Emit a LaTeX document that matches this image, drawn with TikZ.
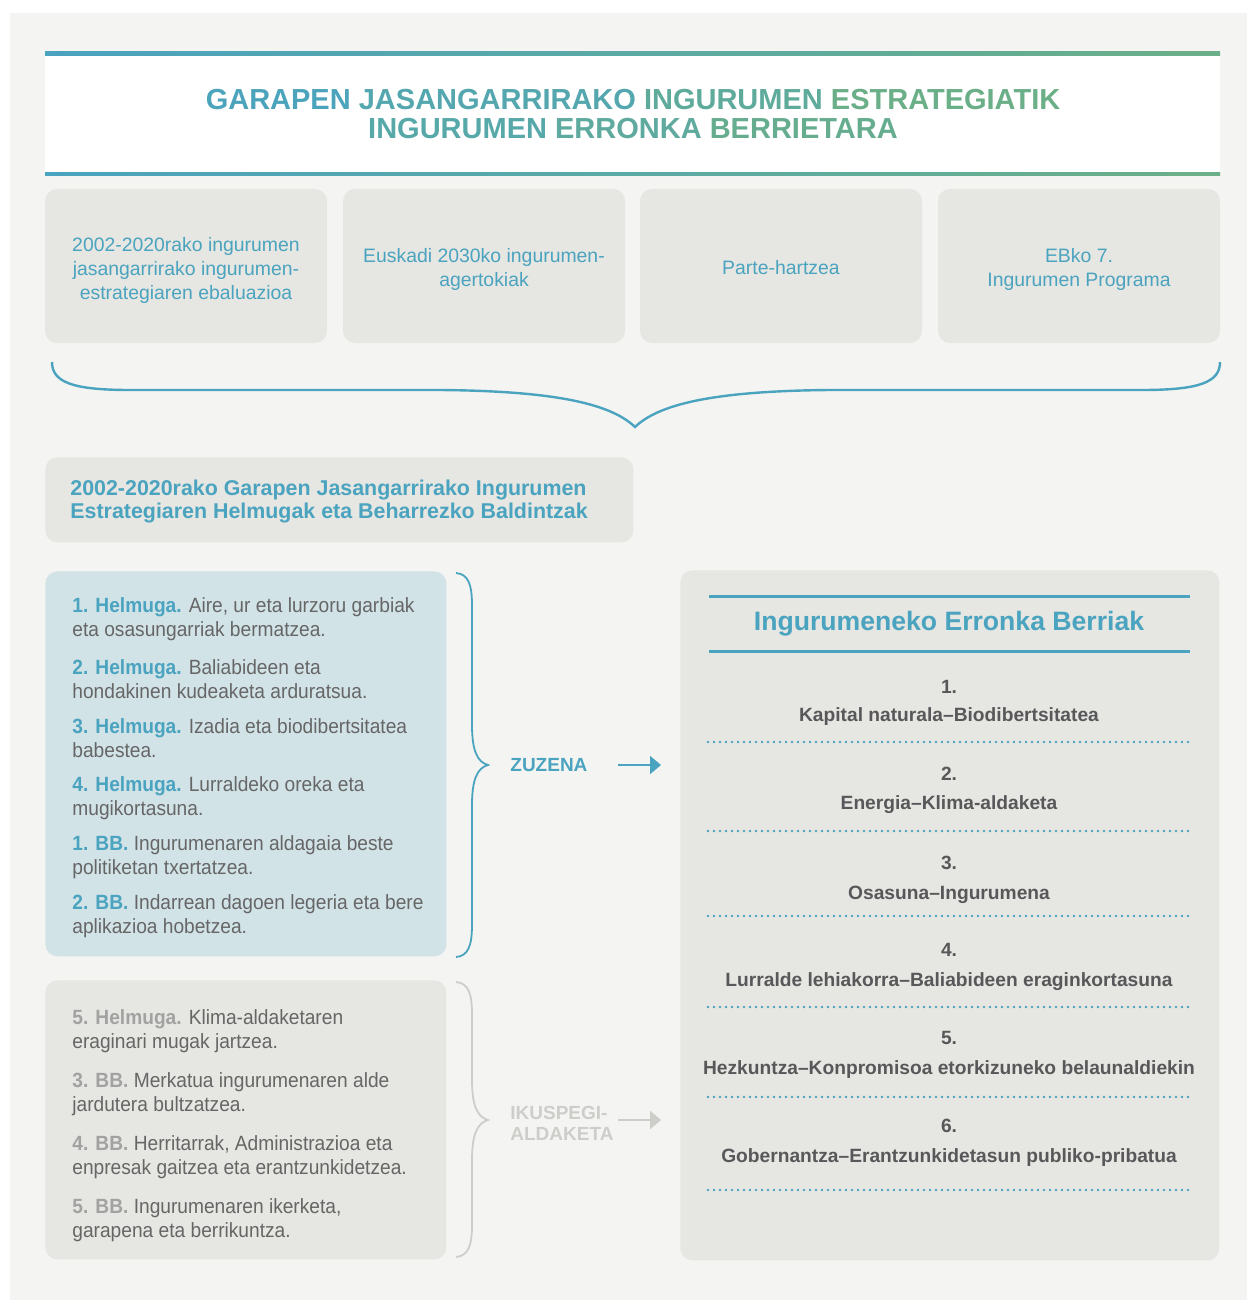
\documentclass[tikz,border=0pt]{standalone}
\usepackage{fontspec}
\setmainfont{Liberation Sans}
\newfontfamily\narrowfont[FakeStretch=0.93]{Liberation Sans}
\usetikzlibrary{arrows.meta}

\definecolor{LineBlue}{HTML}{4AA3BF}
\definecolor{LineGreen}{HTML}{6BAF88}
\definecolor{PageGray}{HTML}{F4F4F2}
\definecolor{PanelGray}{HTML}{E6E6E2}
\definecolor{PaleBlue}{HTML}{D2E3E8}
\definecolor{DarkText}{HTML}{58585A}
\definecolor{MidText}{HTML}{666666}
\definecolor{FadeGray}{HTML}{A2A2A2}
\definecolor{PaleGray}{HTML}{CDCDCA}

\begin{document}
\begin{tikzpicture}[x=0.5pt,y=-0.5pt,
  panel/.style={fill=PanelGray,rounded corners=6pt,inner sep=0pt},
  source/.style={panel,minimum width=141pt,minimum height=77pt},
  sourcetext/.style={align=center,inner sep=0pt,text=LineBlue,font=\fontsize{9.7}{12}\selectfont},
  goal/.style={anchor=west,align=left,inner sep=0pt,
    font=\narrowfont\fontsize{10.3}{12.3}\selectfont},
  challenge/.style={anchor=base,text=DarkText,font=\bfseries\fontsize{9.6}{11}\selectfont,inner sep=0pt},
  dotline/.style={LineBlue,line width=1.4pt,line cap=round,dash pattern=on 0pt off 3pt},
  brace/.style={line width=0.9pt},
  arr/.style={line width=1pt,-{Triangle[length=5.5pt,width=9pt]}}]
\def\hlabel#1{{\bfseries\color{LineBlue}#1}}
\def\glabel#1{{\bfseries\color{FadeGray}#1}}

\useasboundingbox (0,0) rectangle (1247,1300);
\fill[white] (0,0) rectangle (1247,1300);
\fill[PageGray] (10,13) rectangle (1247,1300);

\fill[white] (45,53) rectangle (1220,175);
\shade[left color=LineBlue,right color=LineGreen] (45,52) rectangle (1220,55.5);
\shade[left color=LineBlue,right color=LineGreen] (45,172.5) rectangle (1220,176);
\node[align=center,font=\bfseries\fontsize{14.5}{14.5}\selectfont] (title) at (633,114)
  {\textcolor{LineBlue!95!LineGreen}{GARAPEN} \textcolor{LineBlue!70!LineGreen}{JASANGARRIRAKO}
   \textcolor{LineBlue!35!LineGreen}{INGURUMEN} \textcolor{LineGreen}{ESTRATEGIATIK}\\
   \textcolor{LineBlue!60!LineGreen}{INGURUMEN} \textcolor{LineBlue!40!LineGreen}{ERRONKA}
   \textcolor{LineBlue!15!LineGreen}{BERRIETARA}};

\node[source] (ebal) at (186,266) {};
\node[source] (agert) at (484,266) {};
\node[source] (parte) at (781,266) {};
\node[source] (ebko) at (1079,266) {};
\node[sourcetext] (ebaltxt) at ([yshift=-2pt]ebal.center) {2002-2020rako ingurumen\\jasangarrirako ingurumen-\\estrategiaren ebaluazioa};
\node[sourcetext] (agerttxt) at ([yshift=-1.5pt]agert.center) {Euskadi 2030ko ingurumen-\\agertokiak};
\node[sourcetext] (partetxt) at ([yshift=-1pt]parte.center) {Parte-hartzea};
\node[sourcetext] (ebkotxt) at ([yshift=-1.5pt]ebko.center) {EBko 7.\\Ingurumen Programa};

\draw[LineBlue,line width=1.2pt] (52,362) .. controls (52,382) and (72,390) .. (130,390)
  -- (440,390) .. controls (560,391) and (612,405) .. (635,427)
  .. controls (658,405) and (710,391) .. (830,390) -- (1142,390)
  .. controls (1200,390) and (1220,382) .. (1220,362);

\node[panel,minimum width=294pt,minimum height=42.5pt,anchor=north west] (helburu) at (45,457) {};
\node[anchor=west,align=left,inner sep=0pt,text=LineBlue,font=\bfseries\fontsize{10.7}{11.5}\selectfont] (helburutxt) at (70,502)
  {2002-2020rako Garapen Jasangarrirako Ingurumen\\Estrategiaren Helmugak eta Beharrezko Baldintzak};

\node[panel,fill=PaleBlue,minimum width=200.5pt,minimum height=192.5pt,anchor=north west] (zuzen) at (45,571) {};
\node[goal,text=MidText] (g1) at (72,619) {\hlabel{1. Helmuga.} Aire, ur eta lurzoru garbiak\\eta osasungarriak bermatzea.};
\node[goal,text=MidText] (g2) at (72,679) {\hlabel{2. Helmuga.} Baliabideen eta\\hondakinen kudeaketa arduratsua.};
\node[goal,text=MidText] (g3) at (72,738) {\hlabel{3. Helmuga.} Izadia eta biodibertsitatea\\babestea.};
\node[goal,text=MidText] (g4) at (72,798) {\hlabel{4. Helmuga.} Lurraldeko oreka eta\\mugikortasuna.};
\node[goal,text=MidText] (b1) at (72,857) {\hlabel{1. BB.} Ingurumenaren aldagaia beste\\politiketan txertatzea.};
\node[goal,text=MidText] (b2) at (72,916) {\hlabel{2. BB.} Indarrean dagoen legeria eta bere\\aplikazioa hobetzea.};

\node[panel,minimum width=200.5pt,minimum height=139.5pt,anchor=north west] (aldaketa) at (45,980) {};
\node[goal,text=MidText] (g5) at (72,1031) {\glabel{5. Helmuga.} Klima-aldaketaren\\eraginari mugak jartzea.};
\node[goal,text=MidText] (b3) at (72,1094) {\glabel{3. BB.} Merkatua ingurumenaren alde\\jardutera bultzatzea.};
\node[goal,text=MidText] (b4) at (72,1157) {\glabel{4. BB.} Herritarrak, Administrazioa eta\\enpresak gaitzea eta erantzunkidetzea.};
\node[goal,text=MidText] (b5) at (72,1220) {\glabel{5. BB.} Ingurumenaren ikerketa,\\garapena eta berrikuntza.};

\draw[brace,LineBlue] (456,573) .. controls (468,574) and (472,584) .. (472,605) -- (472,725)
  .. controls (472,750) and (477,762) .. (488,765) .. controls (477,768) and (472,780) .. (472,805)
  -- (472,925) .. controls (472,946) and (468,956) .. (456,957);
\draw[brace,PaleGray] (456,982) .. controls (468,983) and (472,993) .. (472,1014) -- (472,1080)
  .. controls (472,1105) and (477,1117) .. (488,1120) .. controls (477,1123) and (472,1135) .. (472,1160)
  -- (472,1225) .. controls (472,1246) and (468,1256) .. (456,1257);

\node[panel,minimum width=269.5pt,minimum height=345pt,anchor=north west] (erronkak) at (680,570) {};

\node[anchor=west,text=LineBlue,font=\bfseries\fontsize{9.5}{11}\selectfont,inner sep=0pt] (zuzena) at (510,765) {ZUZENA};
\node[anchor=west,align=left,text=PaleGray,font=\bfseries\fontsize{9.5}{10.5}\selectfont,inner sep=0pt] (ikuspegi) at (510,1123) {IKUSPEGI-\\ALDAKETA};
\coordinate (zuzenaTail) at (618,765);
\coordinate (ikuspegiTail) at (618,1120);
\draw[arr,LineBlue] (zuzenaTail) -- (erronkak.west |- zuzenaTail) [shorten >=9.5pt];
\draw[arr,PaleGray] (ikuspegiTail) -- (erronkak.west |- ikuspegiTail) [shorten >=9.5pt];

\draw[LineBlue,line width=1.5pt] (709,596) -- (1190,596);
\draw[LineBlue,line width=1.5pt] (709,651) -- (1190,651);
\node[text=LineBlue,font=\bfseries\fontsize{13.3}{14}\selectfont] (erronkaTitle) at (949,624) {Ingurumeneko Erronka Berriak};

\node[challenge] (n1) at (949,693) {1.};
\node[challenge] (c1) at (949,721) {Kapital naturala–Biodibertsitatea};
\draw[dotline] (708,742) -- (1192,742);
\node[challenge] (n2) at (949,780) {2.};
\node[challenge] (c2) at (949,809) {Energia–Klima-aldaketa};
\draw[dotline] (708,831) -- (1192,831);
\node[challenge] (n3) at (949,869) {3.};
\node[challenge] (c3) at (949,899) {Osasuna–Ingurumena};
\draw[dotline] (708,916) -- (1192,916);
\node[challenge] (n4) at (949,956) {4.};
\node[challenge] (c4) at (949,986) {Lurralde lehiakorra–Baliabideen eraginkortasuna};
\draw[dotline] (708,1007) -- (1192,1007);
\node[challenge] (n5) at (949,1044) {5.};
\node[challenge] (c5) at (949,1074) {Hezkuntza–Konpromisoa etorkizuneko belaunaldiekin};
\draw[dotline] (708,1097) -- (1192,1097);
\node[challenge] (n6) at (949,1132) {6.};
\node[challenge] (c6) at (949,1162) {Gobernantza–Erantzunkidetasun publiko-pribatua};
\draw[dotline] (708,1190) -- (1192,1190);

\end{tikzpicture}
\end{document}
